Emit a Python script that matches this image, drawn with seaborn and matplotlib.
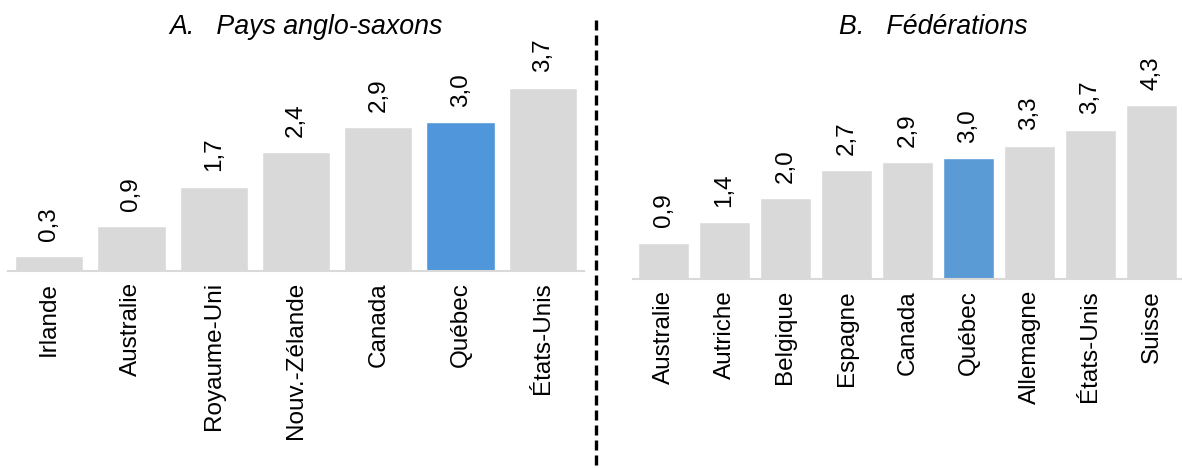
import matplotlib
matplotlib.use("Agg")
import matplotlib.pyplot as plt
import seaborn as sns
import pandas as pd
from matplotlib.lines import Line2D

# Panel A: anglo-saxon countries
pays_a = ["Irlande", "Australie", "Royaume-Uni", "Nouv.-Zélande", "Canada", "Québec", "États-Unis"]
valeurs_a = [0.3, 0.9, 1.7, 2.4, 2.9, 3.0, 3.7]

# Panel B: federations
pays_b = ["Australie", "Autriche", "Belgique", "Espagne", "Canada", "Québec", "Allemagne", "États-Unis", "Suisse"]
valeurs_b = [0.9, 1.4, 2.0, 2.7, 2.9, 3.0, 3.3, 3.7, 4.3]

titre_a = "A.   Pays anglo-saxons"
titre_b = "B.   Fédérations"

sns.set_theme(style="white")
plt.rcParams["font.family"] = ["Liberation Sans", "DejaVu Sans"]

GRIS = "#d9d9d9"
BLEU_A = "#5096da"
BLEU_B = "#5b9bd5"

W, H = 1182, 468
fig = plt.figure(figsize=(W / 100, H / 100), dpi=100)


def px_axes(x0, x1, y_top, y_bot):
    return fig.add_axes([x0 / W, 1 - y_bot / H, (x1 - x0) / W, (y_bot - y_top) / H])


def panneau(ax, pays, valeurs, bleu, ymax, titre, titre_x, titre_y):
    df = pd.DataFrame({"pays": pays, "valeur": valeurs})
    couleurs = [bleu if p == "Québec" else GRIS for p in pays]
    sns.barplot(data=df, x="pays", y="valeur", hue="pays", palette=couleurs,
                legend=False, width=0.83, ax=ax, saturation=1)
    ax.set_xlim(-0.5, len(pays) - 0.5)
    ax.set_ylim(0, ymax)
    for s in ["top", "right", "left"]:
        ax.spines[s].set_visible(False)
    ax.spines["bottom"].set_color(GRIS)
    ax.spines["bottom"].set_linewidth(1.5)
    ax.set_yticks([])
    ax.set_xlabel("")
    ax.set_ylabel("")
    ax.tick_params(axis="x", length=0, pad=8, labelsize=17.5, labelcolor="black")
    for lab in ax.get_xticklabels():
        lab.set_rotation(90)
        lab.set_va("top")
        lab.set_ha("center")
    for i, v in enumerate(valeurs):
        ax.annotate(f"{v:.1f}".replace(".", ","), xy=(i, v), xytext=(0, 11),
                    textcoords="offset points", rotation=90, ha="center",
                    va="bottom", fontsize=17.5, color="black", annotation_clip=False)
    fig.text(titre_x / W, 1 - titre_y / H, titre, ha="center", va="center",
             fontsize=19.3, style="italic", color="black")


ax_a = px_axes(8, 584, 53, 271)
panneau(ax_a, pays_a, valeurs_a, BLEU_A, 4.4, titre_a, 306, 27)

ax_b = px_axes(633, 1182, 69, 279)
panneau(ax_b, pays_b, valeurs_b, BLEU_B, 5.2, titre_b, 933, 27)

# dashed separator between the two panels
fig.add_artist(Line2D([595.5 / W, 595.5 / W], [1 - 20 / H, 0], transform=fig.transFigure,
                      color="black", linewidth=2.4, linestyle=(0, (3.0, 1.5))))

fig.savefig("out.png", dpi=100, facecolor="white")
